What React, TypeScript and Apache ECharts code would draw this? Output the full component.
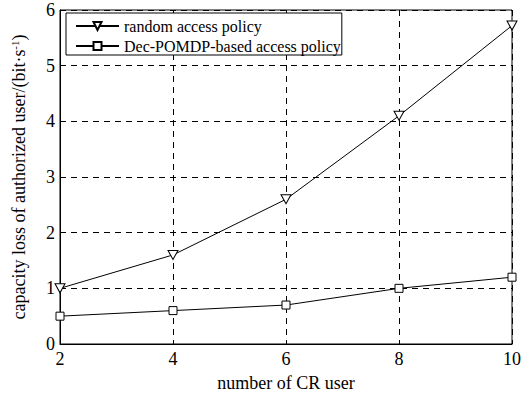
import React, { useEffect, useRef } from "react";
import * as echarts from "echarts";

const xValues = [2, 4, 6, 8, 10];
const randomPolicy = [1.0, 1.6, 2.6, 4.1, 5.72];
const decPomdpPolicy = [0.5, 0.6, 0.7, 1.0, 1.2];
const seriesNames = ["random access policy", "Dec-POMDP-based access policy"];

const FONT = "'Liberation Serif', serif";
const TRI_DOWN = "path://M0,0 L10,0 L5,9 Z";

export default function App() {
  const ref = useRef<HTMLDivElement>(null);
  useEffect(() => {
    if (!ref.current) return;
    const chart = echarts.init(ref.current, null, { renderer: "svg" });
    const mk = (vals: number[]) => xValues.map((x, i) => [x, vals[i]]);
    chart.setOption({
      animation: false,
      backgroundColor: "#fff",
      textStyle: { fontFamily: FONT, color: "#000" },
      grid: {
        left: 60,
        right: 7,
        top: 10,
        bottom: 51,
        show: true,
        borderColor: "#000",
        borderWidth: 1,
      },
      legend: {
        orient: "vertical",
        left: 66,
        top: 13,
        itemWidth: 43,
        itemHeight: 10,
        itemGap: 4,
        padding: [5, 1, 1, 9],
        borderColor: "#000",
        borderWidth: 1,
        backgroundColor: "#fff",
        textStyle: { fontFamily: FONT, fontSize: 16, color: "#000" },
        data: seriesNames,
      },
      xAxis: {
        type: "value",
        min: 2,
        max: 10,
        interval: 2,
        name: "number of CR user",
        nameLocation: "middle",
        nameGap: 30,
        nameTextStyle: { fontFamily: FONT, fontSize: 18, color: "#000" },
        axisLine: { lineStyle: { color: "#000" } },
        axisTick: { inside: true, length: 4, lineStyle: { color: "#000" } },
        axisLabel: { fontFamily: FONT, fontSize: 18, color: "#000", margin: 6 },
        splitLine: { show: true, lineStyle: { color: "#000", type: [6, 5], width: 1 } },
      },
      yAxis: {
        type: "value",
        min: 0,
        max: 6,
        interval: 1,
        name: "capacity loss of authorized user/(bit·s{sup|-1})",
        nameLocation: "middle",
        nameGap: 31,
        nameRotate: 90,
        nameTextStyle: {
          fontFamily: FONT,
          fontSize: 18,
          color: "#000",
          rich: { sup: { fontFamily: FONT, fontSize: 11, color: "#000", verticalAlign: "top", padding: [0, 0, 9, 0] } },
        },
        axisLine: { lineStyle: { color: "#000" } },
        axisTick: { inside: true, length: 4, lineStyle: { color: "#000" } },
        axisLabel: { fontFamily: FONT, fontSize: 18, color: "#000", margin: 5 },
        splitLine: { show: true, lineStyle: { color: "#000", type: [6, 5], width: 1 } },
      },
      series: [
        {
          name: seriesNames[0],
          type: "line",
          data: mk(randomPolicy),
          symbol: TRI_DOWN,
          symbolSize: [10, 9],
          lineStyle: { color: "#000", width: 1 },
          itemStyle: { color: "#fff", borderColor: "#000", borderWidth: 1 },
          z: 3,
        },
        {
          name: seriesNames[1],
          type: "line",
          data: mk(decPomdpPolicy),
          symbol: "rect",
          symbolSize: 8,
          lineStyle: { color: "#000", width: 1 },
          itemStyle: { color: "#fff", borderColor: "#000", borderWidth: 1 },
          z: 3,
        },
      ],
    });
    return () => chart.dispose();
  }, []);
  return <div ref={ref} style={{ width: 524, height: 397, position: "absolute", left: 0, top: 0 }} />;
}
